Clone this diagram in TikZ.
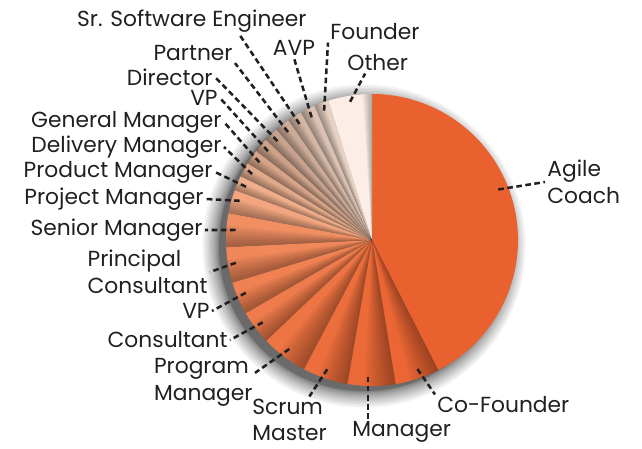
\documentclass[tikz,border=0pt]{standalone}
\usepackage{fontspec}
\setmainfont{Poppins}
\usepackage{tikz}

\definecolor{txt}{HTML}{231F20}
\definecolor{cAgile}{HTML}{E9612F}
\definecolor{cCofounder}{HTML}{EB6634}
\definecolor{cManager}{HTML}{EC6A37}
\definecolor{cScrum}{HTML}{EC6E3C}
\definecolor{cProgram}{HTML}{ED7443}
\definecolor{cConsultant}{HTML}{EE7B4B}
\definecolor{cVPa}{HTML}{EF8152}
\definecolor{cPrincipal}{HTML}{F0885A}
\definecolor{cSenior}{HTML}{F18F63}
\definecolor{cProject}{HTML}{F2A57E}
\definecolor{cProduct}{HTML}{F0AF8C}
\definecolor{cDelivery}{HTML}{E0A98A}
\definecolor{cGeneral}{HTML}{D6A488}
\definecolor{cVPb}{HTML}{CDA289}
\definecolor{cDirector}{HTML}{C7A38F}
\definecolor{cPartner}{HTML}{CCAC98}
\definecolor{cSrSE}{HTML}{D3B6A4}
\definecolor{cAVP}{HTML}{DCC2B2}
\definecolor{cFounder}{HTML}{E6D1C3}
\definecolor{cOther}{HTML}{FCEEE6}

\begin{document}
\begin{tikzpicture}[
  lbl/.style={font=\fontsize{15.5}{19}\selectfont, text=txt, inner sep=1.5pt, align=left},
  lead/.style={draw=txt, line width=1.8pt, dash pattern=on 4pt off 2.5pt},
]
\useasboundingbox (-9.3,-5.2) rectangle (6.75,6.0);

% soft shadow under the pie
\foreach \i in {0,...,19}
  \fill[black, opacity=0.045] (-0.2,-0.15) circle ({3.62+0.42*(\i/19)^2});

% slices (start angle / end angle / colour)
\foreach \a/\b/\c in {-63/90/cAgile, -80.7/-63/cCofounder, -99.7/-80.7/cManager,
    -117.8/-99.7/cScrum, -136.4/-117.8/cProgram, -149.9/-136.4/cConsultant,
    -163/-149.9/cVPa, -177.2/-163/cPrincipal, 169.4/182.8/cSenior,
    160/169.4/cProject, 154.1/160/cProduct, 148.3/154.1/cDelivery,
    142.4/148.3/cGeneral, 136.6/142.4/cVPb, 130.8/136.6/cDirector,
    124.9/130.8/cPartner, 119.1/124.9/cSrSE, 113.2/119.1/cAVP,
    107.4/113.2/cFounder, 90/107.4/cOther}
  \fill[\c] (0,0) -- (\a:3.65) arc (\a:\b:3.65) -- cycle;

% darker band on one side of every slice
\foreach \a/\b in {-80.7/-63, -99.7/-80.7, -117.8/-99.7, -136.4/-117.8,
    -149.9/-136.4, -163/-149.9, -177.2/-163, 169.4/182.8, 160/169.4,
    154.1/160, 148.3/154.1, 142.4/148.3, 136.6/142.4, 130.8/136.6,
    124.9/130.8, 119.1/124.9, 113.2/119.1, 107.4/113.2}
  \foreach \k in {1,...,9}
    \fill[black, opacity=0.04] (0,0) -- ({\b-(\b-\a)*\k/14}:3.65) arc ({\b-(\b-\a)*\k/14}:\b:3.65) -- cycle;
\foreach \k in {1,...,6}
  \fill[black, opacity=0.05] (0,0) -- (90:3.65) arc (90:{90+0.6*\k}:3.65) -- cycle;

% labels
\node[lbl, anchor=west] (ac) at (4.325,1.45) {Agile\\Coach};
\node[lbl, anchor=west] (cf) at (1.575,-4.125) {Co-Founder};
\node[lbl, anchor=west] (mg) at (-0.55,-4.8) {Manager};
\node[lbl, anchor=west] (sm) at (-3.05,-4.5) {Scrum\\Master};
\node[lbl, anchor=east] (pm) at (-2.925,-3.55) {Program\\Manager};
\node[lbl, anchor=east] (cs) at (-3.55,-2.5) {Consultant};
\node[lbl, anchor=east] (vpa) at (-4.0,-1.775) {VP};
\node[lbl, anchor=east] (pc) at (-4.05,-0.8) {Principal\\Consultant};
\node[lbl, anchor=east] (snm) at (-4.175,0.25) {Senior Manager};
\node[lbl, anchor=east] (prj) at (-4.15,1.025) {Project Manager};
\node[lbl, anchor=east] (prd) at (-3.925,1.7) {Product Manager};
\node[lbl, anchor=east] (dlv) at (-3.7,2.325) {Delivery Manager};
\node[lbl, anchor=east] (gen) at (-3.7,2.95) {General Manager};
\node[lbl, anchor=east] (vpb) at (-3.8,3.55) {VP};
\node[lbl, anchor=east] (dir) at (-3.925,4.075) {Director};
\node[lbl, anchor=east] (prt) at (-3.425,4.675) {Partner};
\node[lbl, anchor=east] (sse) at (-1.575,5.475) {Sr. Software Engineer};
\node[lbl] (avp) at (-1.95,4.8) {AVP};
\node[lbl, anchor=west] (fnd) at (-1.1,5.2) {Founder};
\node[lbl, anchor=west] (oth) at (-0.675,4.425) {Other};

% where the leaders touch the slices
\coordinate (pAc) at (21.8:3.4);
\coordinate (pCf) at (-70.6:3.42);
\coordinate (pMg) at (-91.7:3.42);
\coordinate (pSm) at (-109.1:3.42);
\coordinate (pPm) at (-127.2:3.42);
\coordinate (pCs) at (-143:3.42);
\coordinate (pVpa) at (-157.3:3.42);
\coordinate (pPc) at (189.5:3.45);
\coordinate (pSnm) at (175.8:3.42);
\coordinate (pPrj) at (163.5:3.45);
\coordinate (pPrd) at (157.1:3.42);
\coordinate (pDlv) at (151.2:3.42);
\coordinate (pGen) at (145.4:3.42);
\coordinate (pVpb) at (139.5:3.42);
\coordinate (pDir) at (133.7:3.42);
\coordinate (pPrt) at (127.9:3.42);
\coordinate (pSse) at (122:3.42);
\coordinate (pAvp) at (116.2:3.42);
\coordinate (pFnd) at (110.3:3.45);
\coordinate (pOth) at (99:3.5);

\draw[lead] (pAc) -- (ac.west);
\draw[lead] (pCf) -- (cf.north west);
\draw[lead] (pMg) -- (pMg |- mg.north);
\draw[lead] (pSm) -- (sm.50);
\draw[lead] (pPm) -- (pm.10);
\draw[lead] (pCs) -- (cs.east);
\draw[lead] (pVpa) -- (vpa.east);
\draw[lead] (pPc) -- (pc.east);
\draw[lead] (pSnm) -- (snm.east);
\draw[lead] (pPrj) -- (prj.east);
\draw[lead] (pPrd) -- (prd.east);
\draw[lead] (pDlv) -- (dlv.east);
\draw[lead] (pGen) -- (gen.east);
\draw[lead] (pVpb) -- (vpb.east);
\draw[lead] (pDir) -- (dir.east);
\draw[lead] (pPrt) -- (prt.south east);
\draw[lead] (pSse) -- (sse.-16);
\draw[lead] (pAvp) -- (avp.south);
\draw[lead] (pFnd) -- (fnd.south west);
\draw[lead] (pOth) -- (oth.-140);
\end{tikzpicture}
\end{document}
